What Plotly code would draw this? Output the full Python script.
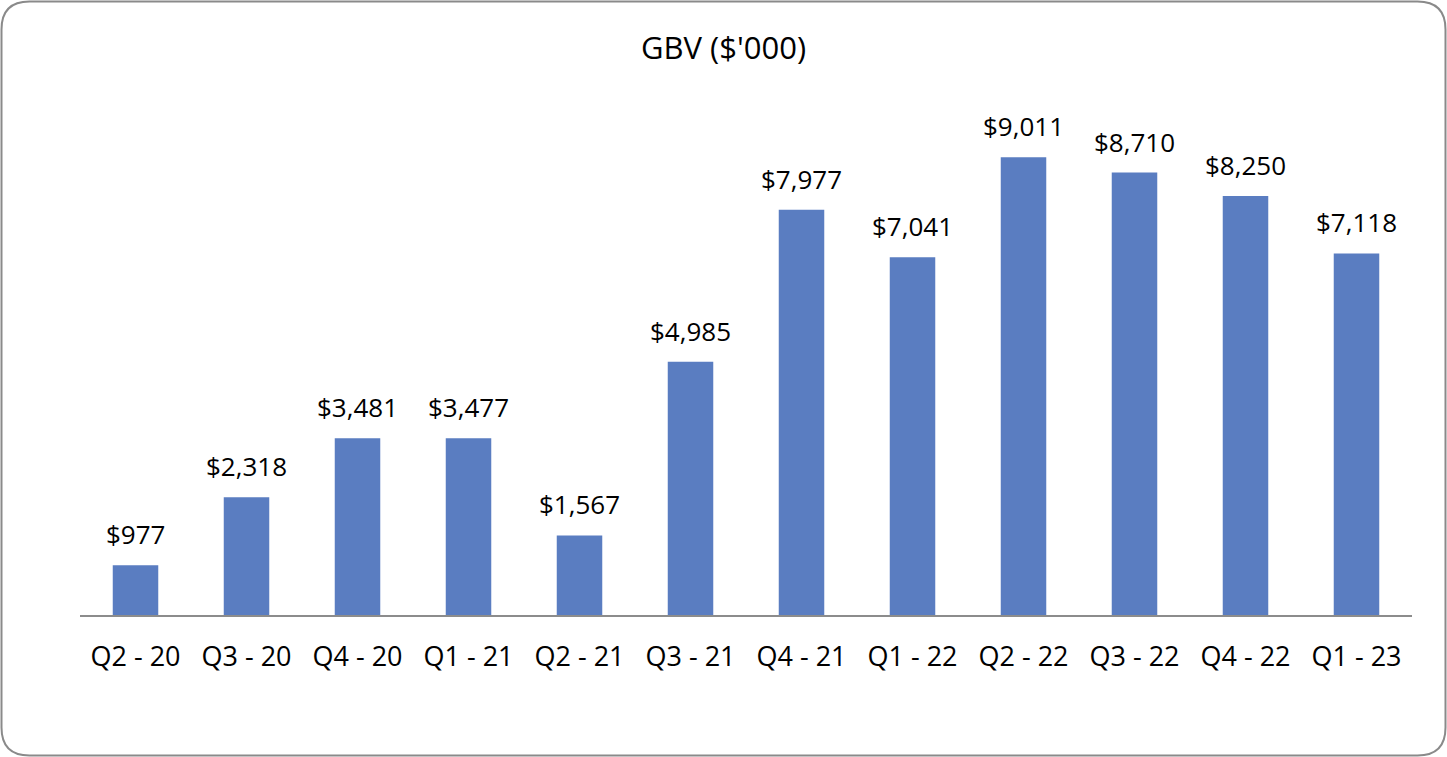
import plotly.graph_objects as go

categories = ["Q2 - 20", "Q3 - 20", "Q4 - 20", "Q1 - 21", "Q2 - 21", "Q3 - 21",
              "Q4 - 21", "Q1 - 22", "Q2 - 22", "Q3 - 22", "Q4 - 22", "Q1 - 23"]
gbv = [977, 2318, 3481, 3477, 1567, 4985, 7977, 7041, 9011, 8710, 8250, 7118]
labels = ["$" + format(v, ",") for v in gbv]

W, H = 1447, 757
ML, MR, MT, MB = 80, 35, 107, 142
PW, PH = W - ML - MR, H - MT - MB

def px(x):
    return (x - ML) / PW

def py(y):
    return (H - MB - y) / PH

fnt = "Open Sans, Noto Sans, sans-serif"

fig = go.Figure(go.Bar(
    x=categories, y=gbv,
    marker=dict(color="#5A7DC1", line=dict(width=0)),
    width=0.41, hoverinfo="x+y",
))

for c, v, t in zip(categories, gbv, labels):
    fig.add_annotation(x=c, y=v, text=t, showarrow=False, yanchor="middle",
                       yshift=31, font=dict(size=26, color="#000000", family=fnt))

x0, x1, y0, y1, r = 1.5, 1445.5, 1.5, 755.5, 28
path = (f"M {px(x0 + r)} {py(y0)} L {px(x1 - r)} {py(y0)} "
        f"Q {px(x1)} {py(y0)} {px(x1)} {py(y0 + r)} "
        f"L {px(x1)} {py(y1 - r)} Q {px(x1)} {py(y1)} {px(x1 - r)} {py(y1)} "
        f"L {px(x0 + r)} {py(y1)} Q {px(x0)} {py(y1)} {px(x0)} {py(y1 - r)} "
        f"L {px(x0)} {py(y0 + r)} Q {px(x0)} {py(y0)} {px(x0 + r)} {py(y0)} Z")

fig.update_layout(
    width=W, height=H,
    margin=dict(l=ML, r=MR, t=MT, b=MB),
    paper_bgcolor="white", plot_bgcolor="white",
    title=dict(text="GBV ($'000)", x=0.5, xanchor="center", y=1 - 48 / H, yanchor="middle",
               font=dict(size=31, color="#000000", family=fnt)),
    xaxis=dict(showline=True, linecolor="#8c8c8c", linewidth=1.5, ticks="",
               ticklabelstandoff=17,
               tickfont=dict(size=27, color="#000000", family=fnt), showgrid=False),
    yaxis=dict(range=[0, 10000], visible=False, showgrid=False),
    shapes=[dict(type="path", xref="paper", yref="paper", path=path,
                 line=dict(color="#8a8a8a", width=2), layer="above")],
    showlegend=False,
)

fig.write_html("out.html", config={"displayModeBar": False},
               post_script="document.body.style.margin='0';document.body.style.overflow='hidden';")
